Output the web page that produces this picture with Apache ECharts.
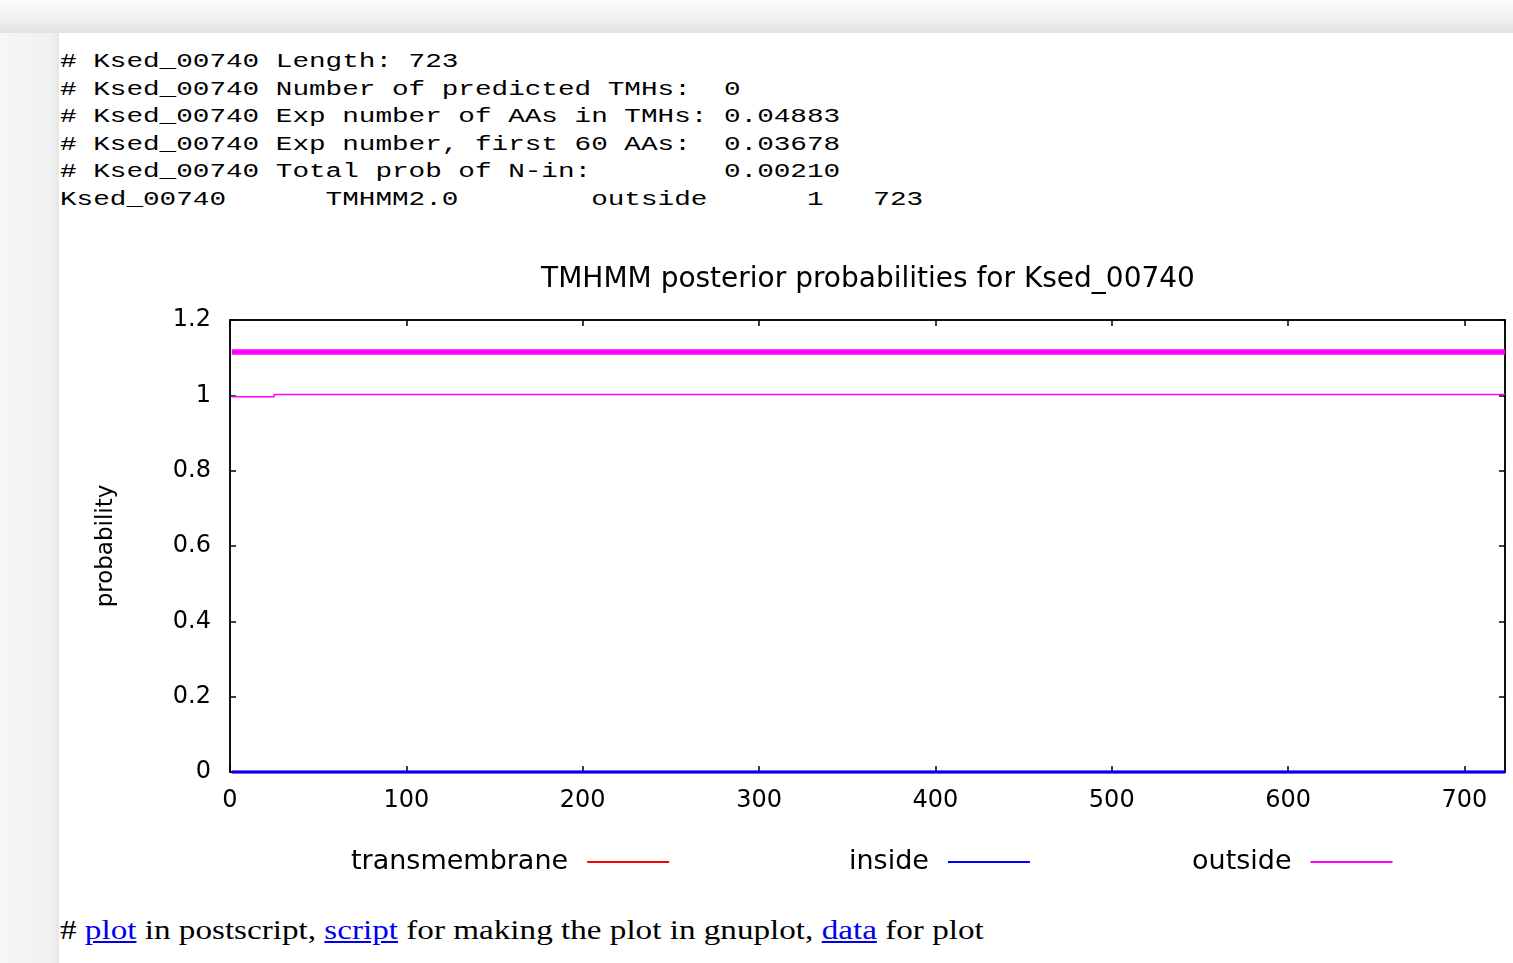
<!DOCTYPE html>
<html>
<head>
<meta charset="utf-8">
<script src="https://cdn.jsdelivr.net/npm/echarts@6/dist/echarts.min.js"></script>
<style>
  html, body { margin: 0; padding: 0; width: 1513px; height: 963px; overflow: hidden; background: #f3f3f3; }
  #topband { position: absolute; left: 0; top: 0; width: 1513px; height: 33px;
    background: linear-gradient(to bottom, #fbfbfb 0%, #f2f2f2 50%, #e2e2e2 100%); }
  #leftstrip { position: absolute; left: 0; top: 33px; width: 59px; height: 930px;
    background: linear-gradient(to right, #f6f6f6 0%, #f1f1f1 85%, #e6e6e6 100%); }
  #panel { position: absolute; left: 59px; top: 33px; width: 1454px; height: 930px; background: #ffffff; }
  #pre { position: absolute; left: 60px; top: 48px; margin: 0; font-family: "Liberation Mono", "DejaVu Sans Mono", monospace;
    font-size: 20px; line-height: 27.5px; color: #000; white-space: pre; transform: scaleX(1.383); transform-origin: 0 0; }
  #links { position: absolute; left: 60px; top: 914px; font-family: "Liberation Serif", "DejaVu Serif", serif;
    font-size: 27px; line-height: 32px; color: #000; white-space: pre; transform: scaleX(1.228); transform-origin: 0 0; }
  #links a { color: #0000ee; text-decoration: underline; }
  #chart { position: absolute; left: 0; top: 0; width: 1513px; height: 963px; }
</style>
</head>
<body>
<div id="topband"></div>
<div id="leftstrip"></div>
<div id="panel"></div>
<pre id="pre"></pre>
<div id="links"># <a href="#">plot</a> in postscript, <a href="#">script</a> for making the plot in gnuplot, <a href="#">data</a> for plot</div>
<div id="chart"></div>
<script>
// ---- header text lines ----
const headerLines = [
  "# Ksed_00740 Length: 723",
  "# Ksed_00740 Number of predicted TMHs:  0",
  "# Ksed_00740 Exp number of AAs in TMHs: 0.04883",
  "# Ksed_00740 Exp number, first 60 AAs:  0.03678",
  "# Ksed_00740 Total prob of N-in:        0.00210",
  "Ksed_00740      TMHMM2.0        outside      1   723"
];

// ---- chart data ----
const chartTitle = "TMHMM posterior probabilities for Ksed_00740";
const legendNames = ["transmembrane", "inside", "outside"];
const seqLength = 723;

const tmX = [1, 723];
const tmProb = [0, 0];

const insideX = [1, 723];
const insideProb = [0, 0];

const outsideX = [1, 25, 25, 723];
const outsideProb = [0.996, 0.996, 1.002, 1.002];

// predicted topology segment (outside 1..723), drawn as thick bar
const topoX = [1, 723];
const topoLevel = [1.115, 1.115];

document.getElementById('pre').textContent = headerLines.join("\n");

function pairs(xs, ys) { return xs.map((x, i) => [x, ys[i]]); }

const chart = echarts.init(document.getElementById('chart'), null, { renderer: 'canvas' });
const sans = '"DejaVu Sans", "Liberation Sans", sans-serif';

const axisCommon = {
  axisLine: { show: true, onZero: false, lineStyle: { color: '#000', width: 1.5 } },
  axisTick: { show: true, inside: true, length: 6, lineStyle: { color: '#000', width: 1.5 } },
  splitLine: { show: false }
};

chart.setOption({
  animation: false,
  backgroundColor: 'transparent',
  title: {
    text: chartTitle,
    left: 868,
    top: 266,
    textAlign: 'center',
    padding: 0,
    textStyle: { fontFamily: sans, fontSize: 28, fontWeight: 'normal', color: '#000' }
  },
  grid: { left: 230, right: 8, top: 320, bottom: 191, show: true, borderColor: '#000', borderWidth: 1.5, backgroundColor: 'transparent' },
  legend: [
    { data: [legendNames[0]], left: 351, top: 847 },
    { data: [legendNames[1]], left: 849, top: 847 },
    { data: [legendNames[2]], left: 1192, top: 847 }
  ].map(l => Object.assign({
    align: 'right', icon: 'rect', itemWidth: 82, itemHeight: 2, padding: 0,
    textStyle: { fontFamily: sans, fontSize: 27, color: '#000', lineHeight: 30, padding: [0, 14, 0, 0] },
    selectedMode: false
  }, l)),
  xAxis: [
    Object.assign({
      type: 'value', min: 0, max: seqLength, interval: 100, position: 'bottom',
      axisLabel: { show: true, margin: 17, fontFamily: sans, fontSize: 24, color: '#000', showMaxLabel: false }
    }, axisCommon),
    Object.assign({
      type: 'value', min: 0, max: seqLength, interval: 100, position: 'top',
      axisLabel: { show: false }
    }, axisCommon)
  ],
  yAxis: [
    Object.assign({
      type: 'value', min: 0, max: 1.2, interval: 0.2, position: 'left',
      name: 'probability', nameLocation: 'middle', nameRotate: 90, nameGap: 112,
      nameTextStyle: { fontFamily: sans, fontSize: 23, color: '#000' },
      axisLabel: { show: true, margin: 19, fontFamily: sans, fontSize: 24, color: '#000' }
    }, axisCommon),
    Object.assign({
      type: 'value', min: 0, max: 1.2, interval: 0.2, position: 'right',
      axisLabel: { show: false }
    }, axisCommon)
  ],
  series: [
    {
      name: 'outside topology', type: 'line', data: pairs(topoX, topoLevel),
      showSymbol: false, symbol: 'none', color: '#ff00ff',
      lineStyle: { color: '#ff00ff', width: 5.5 }, z: 3, silent: true
    },
    {
      name: legendNames[0], type: 'line', data: pairs(tmX, tmProb),
      showSymbol: false, symbol: 'none', color: '#ff0000', clip: false,
      lineStyle: { color: '#ff0000', width: 2.5 }, z: 4
    },
    {
      name: legendNames[1], type: 'line', data: pairs(insideX, insideProb),
      showSymbol: false, symbol: 'none', color: '#0000ff', clip: false,
      lineStyle: { color: '#0000ff', width: 3 }, z: 5
    },
    {
      name: legendNames[2], type: 'line', data: pairs(outsideX, outsideProb),
      showSymbol: false, symbol: 'none', color: '#ff00ff',
      lineStyle: { color: '#ff00ff', width: 1.5 }, z: 6
    }
  ]
});
</script>
</body>
</html>
